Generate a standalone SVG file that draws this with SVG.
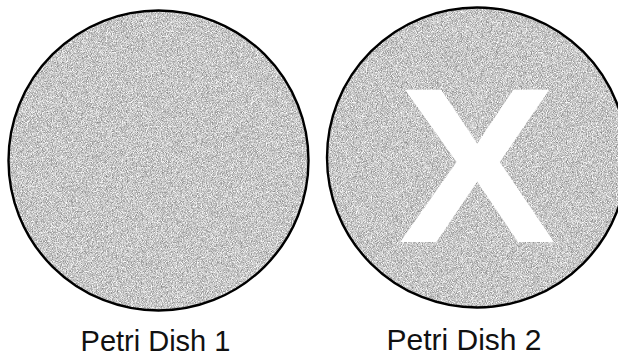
<svg xmlns="http://www.w3.org/2000/svg" width="618" height="357" viewBox="0 0 618 357">
  <style>
    .dish { fill: #c0c0c0; filter: url(#grain); }
    .rim { fill: none; stroke: #000; stroke-width: 2.4; }
    .label { font-family: "Liberation Sans", Arial, sans-serif; fill: #111; text-anchor: middle; }
    .mark { font-family: "Liberation Sans", Arial, sans-serif; font-weight: bold; fill: #fff; text-anchor: middle; }
  </style>
  <defs>
    <filter id="grain" x="0" y="0" width="100%" height="100%" color-interpolation-filters="sRGB">
      <feTurbulence type="fractalNoise" baseFrequency="1.2" numOctaves="1" seed="3" result="n"/>
      <feColorMatrix in="n" type="matrix" values="0.9 0 0 0 0.33  0.9 0 0 0 0.33  0.9 0 0 0 0.33  0 0 0 0 1" result="g"/>
      <feComposite in="g" in2="SourceGraphic" operator="in"/>
    </filter>
  </defs>
  <rect width="618" height="357" fill="#fff"/>
  <g id="dish1">
    <circle class="dish" cx="158.5" cy="160.5" r="150"/>
    <circle class="rim" cx="158.5" cy="160.5" r="150"/>
    <text class="label" x="155.5" y="350.5" font-size="29">Petri Dish 1</text>
  </g>
  <g id="dish2">
    <circle class="dish" cx="477" cy="157.5" r="150"/>
    <circle class="rim" cx="477" cy="157.5" r="150"/>
    <text class="mark" transform="translate(477 242) scale(1.07 1)" font-size="221">X</text>
    <text class="label" x="464" y="350" font-size="30">Petri Dish 2</text>
  </g>
  <g id="connectors"/>
</svg>
